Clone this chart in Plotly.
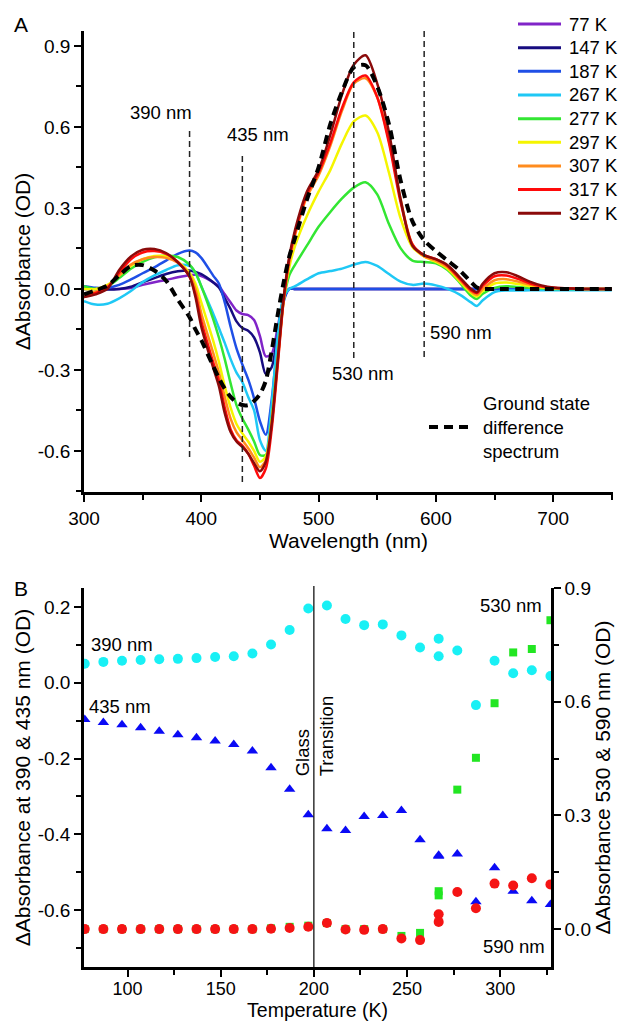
import plotly.graph_objects as go

W, H = 621, 1022
FONT = "Liberation Sans, Arial, sans-serif"

# ---------------- Panel A data ----------------
wavelength = [300, 310, 320, 330, 340, 350, 360, 370, 380, 390, 395, 400, 410, 415, 420, 425, 430, 435, 440, 445,
              450, 455, 460, 465, 470, 475, 480, 490, 500, 510, 520, 530, 540, 550, 560, 570, 580, 590, 600, 610,
              620, 630, 635, 640, 650, 660, 670, 680, 690, 700, 725, 750]

abs_77K = [0.0, 0.0, 0.0, 0.0, 0.003, 0.015, 0.025, 0.033, 0.043, 0.051, 0.052, 0.048, 0.025, 0.01, -0.02, -0.05,
           -0.08, -0.093, -0.097, -0.115, -0.175, -0.25, -0.24, -0.145, -0.04, 0.0, 0.0, 0.0, 0.0, 0.0, 0.0, 0.0,
           0.0, 0.0, 0.0, 0.0, 0.0, 0.0, 0.0, 0.0, 0.0, 0.0, 0.0, 0.0, 0.0, 0.0, 0.0, 0.0, 0.0, 0.0, 0.0, 0.0]
abs_147K = [0.0, 0.0, -0.002, 0.0, 0.008, 0.025, 0.04, 0.055, 0.065, 0.068, 0.063, 0.055, 0.025, 0.005, -0.035,
            -0.075, -0.12, -0.145, -0.155, -0.18, -0.235, -0.315, -0.29, -0.17, -0.04, 0.0, 0.0, 0.0, 0.0, 0.0,
            0.0, 0.0, 0.0, 0.0, 0.0, 0.0, 0.0, 0.0, 0.0, 0.0, 0.0, 0.0, 0.0, 0.0, 0.0, 0.0, 0.0, 0.0, 0.0, 0.0,
            0.0, 0.0]
abs_187K = [0.01, 0.004, 0.004, 0.015, 0.035, 0.058, 0.08, 0.105, 0.13, 0.142, 0.135, 0.115, 0.05, 0.02, -0.05,
            -0.14, -0.22, -0.28, -0.335, -0.405, -0.49, -0.54, -0.41, -0.2, -0.05, 0.0, 0.0, 0.0, 0.0, 0.0, 0.0,
            0.0, 0.0, 0.0, 0.0, 0.0, 0.0, 0.0, 0.0, 0.0, 0.0, 0.0, 0.0, 0.0, 0.0, 0.0, 0.0, 0.0, 0.0, 0.0, 0.0,
            0.0]
abs_267K = [-0.045, -0.058, -0.055, -0.035, -0.008, 0.025, 0.05, 0.07, 0.088, 0.085, 0.06, 0.01, -0.09, -0.145,
            -0.2, -0.26, -0.31, -0.345, -0.4, -0.45, -0.56, -0.6, -0.43, -0.18, -0.03, 0.0, 0.01, 0.035, 0.058,
            0.066, 0.075, 0.09, 0.1, 0.085, 0.055, 0.027, 0.015, 0.02, 0.013, 0.0, -0.02, -0.05, -0.063, -0.042,
            -0.012, -0.006, -0.006, -0.005, -0.005, -0.005, -0.005, -0.005]
abs_277K = [0.01, 0.0, 0.01, 0.04, 0.075, 0.1, 0.117, 0.124, 0.118, 0.09, 0.06, 0.01, -0.11, -0.18, -0.26, -0.35,
            -0.43, -0.48, -0.52, -0.565, -0.615, -0.615, -0.48, -0.26, -0.05, 0.05, 0.09, 0.16, 0.23, 0.285,
            0.335, 0.375, 0.395, 0.35, 0.24, 0.15, 0.105, 0.1, 0.095, 0.07, 0.025, -0.025, -0.037, -0.018, 0.004,
            0.01, 0.007, 0.004, 0.002, 0.0, 0.0, 0.0]
abs_297K = [0.0, 0.0, 0.015, 0.05, 0.085, 0.11, 0.122, 0.12, 0.1, 0.06, 0.02, -0.05, -0.19, -0.27, -0.36, -0.44,
            -0.5, -0.535, -0.565, -0.6, -0.64, -0.62, -0.49, -0.27, -0.05, 0.08, 0.16, 0.27, 0.36, 0.44, 0.54,
            0.62, 0.642, 0.58, 0.43, 0.26, 0.155, 0.12, 0.1, 0.075, 0.03, -0.015, -0.028, -0.008, 0.02, 0.024,
            0.018, 0.01, 0.005, 0.002, 0.0, 0.0]
abs_307K = [-0.02, -0.01, 0.01, 0.05, 0.09, 0.11, 0.118, 0.115, 0.097, 0.052, 0.0, -0.09, -0.235, -0.31, -0.4,
            -0.48, -0.53, -0.56, -0.59, -0.625, -0.66, -0.635, -0.5, -0.28, -0.05, 0.1, 0.2, 0.34, 0.42, 0.53,
            0.66, 0.76, 0.78, 0.71, 0.55, 0.33, 0.165, 0.12, 0.105, 0.08, 0.035, -0.01, -0.022, 0.0, 0.032,
            0.036, 0.027, 0.016, 0.008, 0.003, 0.0, 0.0]
abs_317K = [-0.03, -0.015, 0.005, 0.06, 0.11, 0.135, 0.14, 0.13, 0.1, 0.045, -0.02, -0.12, -0.27, -0.34, -0.44,
            -0.52, -0.56, -0.58, -0.61, -0.655, -0.7, -0.665, -0.52, -0.29, -0.05, 0.11, 0.21, 0.35, 0.43, 0.54,
            0.67, 0.765, 0.79, 0.71, 0.54, 0.32, 0.165, 0.125, 0.11, 0.085, 0.04, -0.005, -0.015, 0.012, 0.047,
            0.05, 0.037, 0.021, 0.01, 0.004, 0.0, 0.0]
abs_327K = [-0.03, -0.02, 0.0, 0.07, 0.12, 0.145, 0.148, 0.133, 0.098, 0.045, -0.03, -0.14, -0.29, -0.36, -0.46,
            -0.53, -0.565, -0.585, -0.61, -0.645, -0.675, -0.64, -0.5, -0.27, -0.04, 0.12, 0.22, 0.36, 0.44,
            0.57, 0.72, 0.83, 0.865, 0.76, 0.58, 0.33, 0.16, 0.125, 0.11, 0.088, 0.045, 0.0, -0.012, 0.02, 0.058,
            0.062, 0.047, 0.027, 0.013, 0.005, 0.0, 0.0]
ground_state = [-0.02, -0.005, 0.012, 0.05, 0.085, 0.088, 0.068, 0.03, -0.04, -0.105, -0.15, -0.19, -0.285, -0.33,
                -0.37, -0.4, -0.42, -0.43, -0.43, -0.415, -0.39, -0.34, -0.23, -0.1, 0.02, 0.12, 0.19, 0.33, 0.45,
                0.61, 0.73, 0.82, 0.828, 0.75, 0.61, 0.4, 0.25, 0.18, 0.14, 0.105, 0.07, 0.025, 0.005, 0.0, 0.0,
                0.0, 0.0, 0.0, 0.0, 0.0, 0.0, 0.0]

temp_labels = ["77 K", "147 K", "187 K", "267 K", "277 K", "297 K", "307 K", "317 K", "327 K"]
temp_colors = ["#8024c8", "#170c80", "#1f4fe6", "#1fc8f5", "#33e633", "#f5f500", "#ff8c1e", "#ff0a0a", "#8b0a0a"]
spectra = [abs_77K, abs_147K, abs_187K, abs_267K, abs_277K, abs_297K, abs_307K, abs_317K, abs_327K]

marker_wl = [390, 435, 530, 590]
marker_top = [0.596, 0.504, 0.96, 0.96]
marker_bottom = [-0.622, -0.715, -0.256, -0.252]
marker_text = ["390 nm", "435 nm", "530 nm", "590 nm"]
marker_text_x = [366, 448, 538, 593.5]
marker_text_y = [0.653, 0.57, -0.315, -0.162]

# ---------------- Panel B data ----------------
temperature = [77, 87, 97, 107, 117, 127, 137, 147, 157, 167, 177, 187, 197, 207, 217, 227, 237, 247, 257,
               267, 267, 277, 287, 297, 307, 317, 327]
abs_390nm = [0.05, 0.055, 0.058, 0.06, 0.062, 0.063, 0.065, 0.068, 0.07, 0.077, 0.101, 0.139, 0.196, 0.204, 0.168,
             0.152, 0.154, 0.125, 0.093, 0.116, 0.07, 0.085, -0.059, 0.058, 0.025, 0.033, 0.018]
abs_435nm = [-0.097, -0.105, -0.111, -0.119, -0.128, -0.137, -0.145, -0.154, -0.163, -0.18, -0.224, -0.281,
             -0.348, -0.385, -0.39, -0.353, -0.35, -0.337, -0.414, -0.458, -0.455, -0.452, -0.578, -0.488, -0.55,
             -0.575, -0.585]
abs_530nm = [0.0, 0.0, 0.0, 0.0, 0.0, 0.0, 0.0, 0.0, 0.0, 0.0, 0.002, 0.006, 0.009, 0.016, 0.0, 0.0, 0.0, -0.018,
             -0.01, 0.1, 0.089, 0.368, 0.452, 0.596, 0.73, 0.739, 0.815]
abs_590nm = [0.0, 0.0, 0.0, 0.0, 0.0, 0.0, 0.0, 0.0, 0.0, 0.0, 0.001, 0.003, 0.006, 0.016, -0.001, -0.002, 0.0,
             -0.025, -0.029, 0.039, 0.019, 0.098, 0.055, 0.12, 0.115, 0.134, 0.118]
glass_transition_T = 200


def px(x):
    return x / W


def py(y):
    return 1 - y / H


fig = go.Figure()

for lab, col, vals in zip(temp_labels, temp_colors, spectra):
    fig.add_trace(go.Scatter(x=wavelength, y=vals, mode="lines", name=lab,
                             line=dict(color=col, width=2.5, shape="spline", smoothing=0.8),
                             xaxis="x", yaxis="y", showlegend=False))
fig.add_trace(go.Scatter(x=wavelength, y=ground_state, mode="lines", name="Ground state difference spectrum",
                         line=dict(color="black", width=4, dash="9px,6px", shape="spline", smoothing=0.8),
                         xaxis="x", yaxis="y", showlegend=False))

fig.add_trace(go.Scatter(x=temperature, y=abs_390nm, mode="markers", name="390 nm",
                         marker=dict(symbol="circle", size=10, color="#19f0f5"),
                         xaxis="x2", yaxis="y2", showlegend=False))
fig.add_trace(go.Scatter(x=temperature, y=abs_435nm, mode="markers", name="435 nm",
                         marker=dict(symbol="triangle-up", size=10, color="#0a0af5"),
                         xaxis="x2", yaxis="y2", showlegend=False))
fig.add_trace(go.Scatter(x=temperature, y=abs_530nm, mode="markers", name="530 nm",
                         marker=dict(symbol="square", size=8, color="#22e622"),
                         xaxis="x2", yaxis="y3", showlegend=False))
fig.add_trace(go.Scatter(x=temperature, y=abs_590nm, mode="markers", name="590 nm",
                         marker=dict(symbol="circle", size=10, color="#f51414"),
                         xaxis="x2", yaxis="y3", showlegend=False))

shapes = []
for wl, top, bot in zip(marker_wl, marker_top, marker_bottom):
    shapes.append(dict(type="line", xref="x", yref="y", x0=wl, x1=wl, y0=bot, y1=top,
                       line=dict(color="#222", width=1.5, dash="6px,4px")))
shapes.append(dict(type="line", xref="x2", yref="paper", x0=glass_transition_T, x1=glass_transition_T,
                   y0=py(967), y1=py(586), line=dict(color="black", width=1.2)))

annotations = []
for t, tx, ty in zip(marker_text, marker_text_x, marker_text_y):
    annotations.append(dict(text=t, x=tx, y=ty, xref="x", yref="y", showarrow=False,
                            xanchor="left" if t == "590 nm" else "center",
                            font=dict(size=18.5, color="black", family=FONT)))

# manual legend for panel A
for i, (lab, col) in enumerate(zip(temp_labels, temp_colors)):
    yc = 24 + 23.66 * i
    shapes.append(dict(type="line", xref="paper", yref="paper", x0=px(518), x1=px(561), y0=py(yc), y1=py(yc),
                       line=dict(color=col, width=3)))
    annotations.append(dict(text=lab, x=px(567), y=py(yc), xref="paper", yref="paper", showarrow=False,
                            xanchor="left", yanchor="middle", font=dict(size=18.5, color="black", family=FONT)))
shapes.append(dict(type="line", xref="paper", yref="paper", x0=px(429), x1=px(472), y0=py(427), y1=py(427),
                   line=dict(color="black", width=4, dash="9px,6px")))
annotations.append(dict(text="Ground state<br>difference<br>spectrum", x=px(481), y=py(427), xref="paper",
                        yref="paper", showarrow=False, xanchor="left", yanchor="middle", align="left",
                        font=dict(size=18.5, color="black", family=FONT)))

# panel labels
annotations.append(dict(text="A", x=px(21), y=py(24), xref="paper", yref="paper", showarrow=False,
                        xanchor="center", yanchor="middle", font=dict(size=21, color="black", family=FONT)))
annotations.append(dict(text="B", x=px(21), y=py(588), xref="paper", yref="paper", showarrow=False,
                        xanchor="center", yanchor="middle", font=dict(size=21, color="black", family=FONT)))

# panel B labels
annotations += [
    dict(text="390 nm", x=97, y=0.102, xref="x2", yref="y2", showarrow=False,
         font=dict(size=18.5, color="black", family=FONT)),
    dict(text="435 nm", x=96, y=-0.063, xref="x2", yref="y2", showarrow=False,
         font=dict(size=18.5, color="black", family=FONT)),
    dict(text="530 nm", x=305.6, y=0.853, xref="x2", yref="y3", showarrow=False,
         font=dict(size=18.5, color="black", family=FONT)),
    dict(text="590 nm", x=307.7, y=-0.047, xref="x2", yref="y3", showarrow=False,
         font=dict(size=18.5, color="black", family=FONT)),
    dict(text="Glass", x=193.7, y=-0.186, xref="x2", yref="y2", showarrow=False, textangle=-90,
         font=dict(size=18.5, color="black", family=FONT)),
    dict(text="Transition", x=206.6, y=-0.141, xref="x2", yref="y2", showarrow=False, textangle=-90,
         font=dict(size=18.5, color="black", family=FONT)),
]

axis_common = dict(showline=True, linecolor="black", linewidth=2.5, showgrid=False, zeroline=False,
                   ticks="outside", ticklen=7, tickwidth=2, tickcolor="black", automargin=False,
                   tickfont=dict(size=19, color="black", family=FONT))

yA_ticks = [-0.6, -0.3, 0.0, 0.3, 0.6, 0.9]
yA_text = ["-0.6", "-0.3", "0.0", "0.3", "0.6", "0.9"]
xA_ticks = [300, 400, 500, 600, 700]
xB_ticks = [100, 150, 200, 250, 300]
yB_ticks = [-0.6, -0.4, -0.2, 0.0, 0.2]
yB_text = ["-0.6", "-0.4", "-0.2", "0.0", "0.2"]
yB2_ticks = [0.0, 0.3, 0.6, 0.9]
yB2_text = ["0.0", "0.3", "0.6", "0.9"]

fig.update_layout(
    width=W, height=H, margin=dict(l=0, r=0, t=0, b=0, autoexpand=False),
    paper_bgcolor="white", plot_bgcolor="white",
    font=dict(family=FONT, color="black"),
    showlegend=False,
    xaxis=dict(axis_common, domain=[px(84), px(613)], range=[300, 751], anchor="y",
               tickvals=xA_ticks,
               minor=dict(dtick=50, tick0=300, ticks="outside", ticklen=5, tickwidth=2, tickcolor="black"),
               title=dict(text="Wavelength (nm)", font=dict(size=21, family=FONT), standoff=6)),
    yaxis=dict(axis_common, domain=[py(492), py(31)], range=[-0.752, 0.955], anchor="x",
               tickvals=yA_ticks, ticktext=yA_text,
               minor=dict(dtick=0.15, tick0=0, ticks="outside", ticklen=5, tickwidth=2, tickcolor="black"),
               title=dict(text="ΔAbsorbance (OD)", font=dict(size=21, family=FONT), standoff=2)),
    xaxis2=dict(axis_common, domain=[px(84), px(551)], range=[76.6, 327.3], anchor="y2",
                tickvals=xB_ticks, tickfont=dict(size=18, color="black", family=FONT), ticklabelstandoff=-3,
                minor=dict(dtick=25, tick0=0, ticks="outside", ticklen=5, tickwidth=2, tickcolor="black"),
                title=dict(text="Temperature (K)", font=dict(size=19.5, family=FONT), standoff=0)),
    yaxis2=dict(axis_common, domain=[py(967), py(588)], range=[-0.75, 0.25], anchor="x2",
                tickvals=yB_ticks, ticktext=yB_text,
                minor=dict(dtick=0.1, tick0=0, ticks="outside", ticklen=5, tickwidth=2, tickcolor="black"),
                title=dict(text="ΔAbsorbance at 390 & 435 nm (OD)", font=dict(size=21, family=FONT), standoff=2)),
    yaxis3=dict(axis_common, range=[-0.1, 0.9], anchor="x2", overlaying="y2", side="right",
                tickvals=yB2_ticks, ticktext=yB2_text,
                minor=dict(dtick=0.15, tick0=0, ticks="outside", ticklen=5, tickwidth=2, tickcolor="black"),
                title=dict(text="ΔAbsorbance 530 & 590 nm (OD)", font=dict(size=21, family=FONT), standoff=2)),
    shapes=shapes,
    annotations=annotations,
)

fig.write_html("out.html")
